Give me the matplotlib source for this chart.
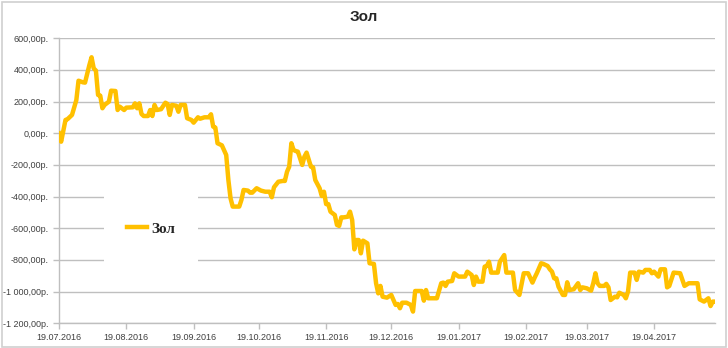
import datetime as dt
import matplotlib
matplotlib.use("Agg")
import matplotlib.pyplot as plt
import matplotlib.dates as mdates
from matplotlib.patches import Rectangle
from matplotlib.ticker import FuncFormatter

# days after 19.07.2016 and the running result
start_date = dt.date(2016, 7, 19)
day_offsets = [
    0, 1, 3, 4, 6, 8, 9, 11, 12, 14, 15, 16, 17, 18, 19, 20, 21, 23, 24, 26,
    27, 28, 30, 31, 34, 35, 36, 37, 38, 39, 41, 42, 43, 44, 45, 47, 49, 50, 51, 52,
    54, 55, 56, 58, 59, 61, 62, 64, 65, 67, 69, 70, 71, 72, 73, 75, 77, 78, 79, 80,
    83, 84, 85, 87, 88, 89, 91, 93, 95, 97, 98, 99, 101, 103, 104, 105, 106, 107, 108, 109,
    110, 112, 113, 114, 116, 117, 118, 120, 121, 122, 123, 124, 125, 127, 128, 129, 130, 131, 133, 134,
    135, 136, 137, 138, 139, 140, 142, 143, 145, 146, 147, 148, 149, 151, 153, 155, 156, 157, 158, 160,
    162, 163, 164, 167, 168, 169, 170, 174, 176, 177, 178, 179, 181, 182, 184, 187, 188, 190, 191, 192,
    193, 195, 196, 197, 198, 199, 202, 203, 205, 206, 209, 210, 212, 214, 216, 218, 219, 220, 222, 223,
    225, 226, 227, 228, 229, 230, 232, 233, 234, 235, 237, 239, 240, 241, 243, 245, 246, 247, 248, 249,
    251, 252, 253, 254, 256, 257, 258, 260, 261, 262, 263, 265, 266, 267, 269, 270, 272, 273, 274, 276,
    277, 279, 280, 281, 283, 286, 288, 290, 294, 295, 297, 299, 300, 301, 302,
]
result = [
    0, -53, 84, 90, 116, 210, 332, 322, 320, 431, 480, 410, 396, 242, 238, 158, 179, 200, 269, 267,
    147, 168, 147, 162, 164, 189, 158, 189, 122, 109, 109, 147, 109, 179, 147, 152, 193, 185, 116, 179,
    174, 136, 179, 179, 95, 84, 67, 101, 92, 101, 101, 120, 42, 36, -63, -76, -137, -295, -411, -463,
    -463, -421, -358, -362, -375, -375, -347, -362, -369, -369, -404, -341, -306, -301, -301, -243, -211, -63, -105, -112,
    -116, -200, -148, -122, -211, -215, -295, -347, -396, -369, -447, -447, -495, -516, -579, -585, -531, -531, -527, -495,
    -548, -733, -674, -674, -758, -678, -695, -821, -825, -947, -1011, -964, -1032, -1038, -1021, -1084, -1078, -1105, -1070, -1070,
    -1084, -1126, -996, -996, -1057, -990, -1042, -1042, -947, -943, -964, -937, -933, -884, -905, -905, -874, -895, -958, -905,
    -937, -937, -842, -838, -811, -880, -880, -811, -769, -880, -880, -990, -1021, -884, -884, -943, -912, -884, -821, -825,
    -838, -859, -874, -916, -916, -969, -1021, -1021, -941, -990, -985, -947, -990, -973, -979, -994, -947, -884, -947, -964,
    -964, -951, -973, -1053, -1032, -1036, -1007, -1021, -1042, -1000, -880, -880, -926, -874, -880, -863, -863, -884, -874, -905,
    -859, -859, -973, -964, -880, -884, -964, -947, -947, -1049, -1063, -1042, -1091, -1063, -1063,
]
series_name = "Зол"
y_ticks = [600, 400, 200, 0, -200, -400, -600, -800, -1000, -1200]
x_tick_dates = [dt.date(2016, m, 19) for m in (7, 8, 9, 10, 11, 12)] + \
               [dt.date(2017, m, 19) for m in (1, 2, 3, 4)]

dates = [start_date + dt.timedelta(days=d) for d in day_offsets]

gold = "#FFC000"
grid_gray = "#BFBFBF"
text_gray = "#404040"

plt.rcParams["font.family"] = ["Liberation Sans", "DejaVu Sans"]

fig = plt.figure(figsize=(7.28, 3.48), dpi=100)
fig.patches.append(Rectangle((0.003, 0.004), 0.994, 0.99, transform=fig.transFigure,
                             fill=False, edgecolor="#D0D0D0", linewidth=1.2))
ax = fig.add_axes([0.081, 0.071, 0.901, 0.819])

ax.plot(dates, result, color=gold, linewidth=3.2, solid_joinstyle="round", zorder=3)

ax.set_ylim(-1200, 600)
ax.set_xlim(start_date, start_date + dt.timedelta(days=302))
ax.set_yticks(y_ticks)
ax.set_xticks(x_tick_dates)
ax.xaxis.set_major_formatter(mdates.DateFormatter("%d.%m.%Y"))


def rub(v, pos):
    s = f"{v:,.2f}".replace(",", " ").replace(".", ",")
    return s + "р."


ax.yaxis.set_major_formatter(FuncFormatter(rub))

ax.set_axisbelow(True)
ax.grid(axis="y", color=grid_gray, linewidth=1.0)
for side in ("top", "right"):
    ax.spines[side].set_visible(False)
for side in ("left", "bottom"):
    ax.spines[side].set_color(grid_gray)
    ax.spines[side].set_linewidth(1.0)
ax.tick_params(axis="both", colors=grid_gray, length=4, width=1.0,
               labelsize=6.5, labelcolor=text_gray)
ax.tick_params(axis="x", pad=3)

# white legend area that hides the grid
ax.add_patch(Rectangle((0.069, 0.194), 0.143, 0.274, transform=ax.transAxes,
                       facecolor="white", edgecolor="none", zorder=1))
leg = ax.legend([series_name], loc="center", bbox_to_anchor=(0.141, 0.331),
                frameon=False, handlelength=1.3, handletextpad=0.3,
                prop={"family": "Liberation Serif", "weight": "bold", "size": 11})
for t in leg.get_texts():
    t.set_color("#262626")

fig.text(0.5, 0.95, series_name, ha="center", va="center", fontsize=11,
         fontweight="bold", color="#262626")

fig.savefig("out.png", dpi=100)
